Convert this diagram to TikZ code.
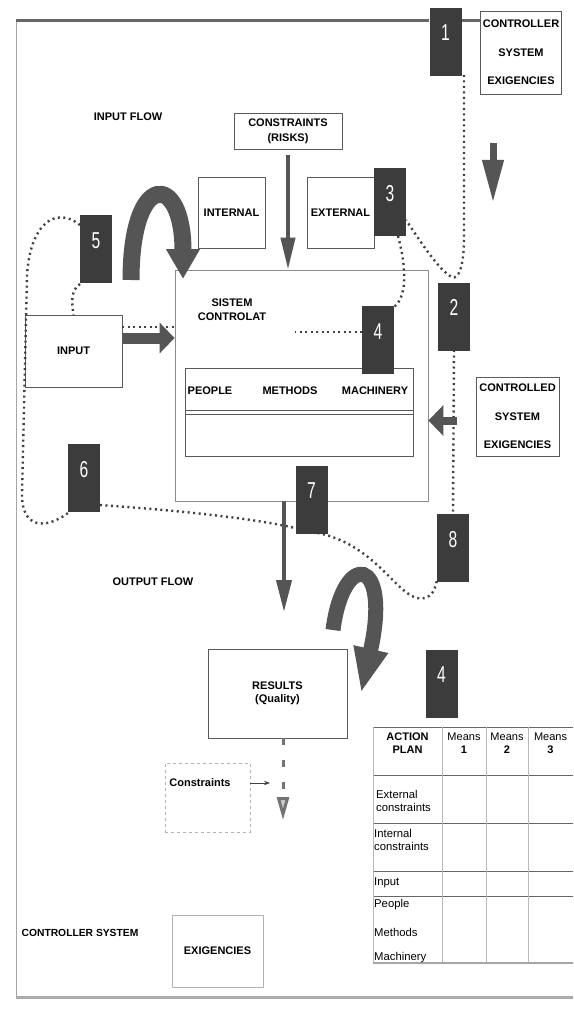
\documentclass[tikz,border=0pt]{standalone}
\usepackage{fontspec}
\setmainfont{Liberation Sans}
\usepackage{graphicx}
\usetikzlibrary{arrows.meta, calc}

\definecolor{numgray}{HTML}{3C3C3C}
\definecolor{arrgray}{HTML}{555555}
\definecolor{linegray}{HTML}{5A5A5A}

\newcommand{\numtxt}[1]{\scalebox{0.68}[1]{#1}}

\begin{document}
\begin{tikzpicture}[x=1pt, y=-1pt,
  box/.style={rectangle, draw=linegray, line width=0.8pt, align=center,
              font=\fontsize{11}{13}\selectfont\bfseries, inner sep=2pt},
  numbox/.style={rectangle, fill=numgray, minimum width=32pt, inner sep=0pt,
                 text height=33pt, text depth=35pt, text=white, font=\fontsize{23}{23}\selectfont},
  lbl/.style={font=\fontsize{11}{13}\selectfont\bfseries, align=center, inner sep=0pt},
  cell/.style={font=\fontsize{11.3}{13}\selectfont, align=left, anchor=west, inner sep=0pt},
  dots/.style={draw=black!75, line width=2.4pt, dash pattern=on 2pt off 3.5pt},
  fatarr/.style={draw=arrgray, line width=11pt, -{Triangle[length=15pt, width=30pt]}},
  thinarr/.style={draw=arrgray, line width=4pt, -{Triangle[length=32pt, width=14pt]}},
  bendarr/.style={draw=arrgray, line width=17pt, -{Triangle[length=30pt, width=32pt]}}
]
  \useasboundingbox (0,0) rectangle (573,1011);

  % frame
  \coordinate (tl) at (16,21);
  \coordinate (bl) at (16,997);
  \coordinate (br) at (573,997);

  % top part
  \node[box, minimum width=78pt, minimum height=83pt, font=\fontsize{11}{28.5}\selectfont\bfseries] (ctrlA) at (521,52.5) {CONTROLLER\\SYSTEM\\EXIGENCIES};
  \node[box, minimum width=108pt, minimum height=36pt, font=\fontsize{11}{15}\selectfont\bfseries] (risk) at (288,131) {CONSTRAINTS\\(RISKS)};
  \node[lbl] (inflow) at (128,117) {INPUT FLOW};
  \node[box, minimum width=67pt, minimum height=71pt] (intl) at (231.5,212.5) {INTERNAL};
  \node[box, minimum width=67pt, minimum height=71pt] (extl) at (340.5,212.5) {EXTERNAL};

  % controlled system
  \node[box, draw=black!45, minimum width=253pt, minimum height=231pt] (sys) at (301.5,385.5) {};
  \node[lbl, font=\fontsize{11}{14}\selectfont\bfseries] (systxt) at (232,310) {SISTEM\\CONTROLAT};
  \node[box, minimum width=228pt, minimum height=88pt] (pmm) at (299,412) {};
  \draw[linegray, line width=0.8pt] ($(pmm.west)+(0,-2)$) -- ($(pmm.east)+(0,-2)$);
  \draw[linegray, line width=0.8pt] ($(pmm.west)+(0,2)$) -- ($(pmm.east)+(0,2)$);
  \node[lbl] (ppl) at (210,391) {PEOPLE};
  \node[lbl] (mth) at (290,391) {METHODS};
  \node[lbl] (mch) at (375,391) {MACHINERY};
  \node[box, minimum width=97pt, minimum height=72pt] (inp) at (73.5,351) {INPUT};
  \node[box, minimum width=83pt, minimum height=79pt, font=\fontsize{11}{28.5}\selectfont\bfseries] (ctrlB) at (517.5,416.5) {CONTROLLED\\SYSTEM\\EXIGENCIES};

  % output part
  \node[lbl] (outflow) at (153,582) {OUTPUT FLOW};
  \node[box, minimum width=139pt, minimum height=89pt] (rslt) at (277.5,693.5) {RESULTS\\(Quality)};
  \node[box, draw=gray!60, dashed, minimum width=85pt, minimum height=69pt] (consbox) at (207.5,797.5) {};
  \node[lbl] (cons) at (200,783) {Constraints};
  \node[box, draw=gray!60, minimum width=91pt, minimum height=72pt] (exig) at (217.5,951) {EXIGENCIES};
  \node[lbl, font=\fontsize{10.3}{13}\selectfont\bfseries] (ctrlsys) at (80,933) {CONTROLLER SYSTEM};

  % action plan table
  \foreach \y in {727,775,823,871,896} \draw[black!60, line width=0.8pt] (373,\y) -- (573,\y);
  \foreach \x in {442,486,528} \draw[gray!55, line width=0.5pt] (\x,727) -- (\x,963);
  \draw[gray!55, line width=0.6pt] (373,727) -- (373,963);
  \draw[gray!70, line width=2.5pt] (373,963) -- (573,963);
  \node[lbl] (ap) at (407.5,743.5) {ACTION\\PLAN};
  \node[font=\fontsize{11}{13}\selectfont, align=center, inner sep=0pt] (m1) at (464,743.5) {Means\\\textbf{1}};
  \node[font=\fontsize{11}{13}\selectfont, align=center, inner sep=0pt] (m2) at (507,743.5) {Means\\\textbf{2}};
  \node[font=\fontsize{11}{13}\selectfont, align=center, inner sep=0pt] (m3) at (550.5,743.5) {Means\\\textbf{3}};
  \node[cell] (ext) at (376,800.5) {External\\constraints};
  \node[cell] (int) at (374,839.5) {Internal\\constraints};
  \node[cell] (ip) at (374,883) {Input};
  \node[cell] (pp) at (374,905) {People};
  \node[cell] (mt) at (374,932) {Methods};
  \node[cell] (mc) at (374,958) {Machinery};

  % dotted links between the numbers
  \coordinate (d3e) at (295,332);
  \draw[dots] (464,75) -- (464,238) .. controls (464,268) and (458,280) .. (452,277) .. controls (440,272) and (418,238) .. (406,220);
  \draw[dots] (398,236) .. controls (405,262) and (409,295) .. (394,307);
  \draw[dots] (362,332) -- (d3e);
  \draw[dots] (454,350) -- (453,512);
  \draw[dots] (80,225) .. controls (55,205) and (30,225) .. (27,275) -- (22,495) .. controls (22,528) and (45,530) .. (68,513);
  \draw[dots] (80,284) .. controls (70,290) and (72,305) .. (73.5,315);
  \draw[dots] ([yshift=24pt]inp.east) -- ([yshift=24pt]inp.east -| sys.west);
  \draw[dots] (100,505) .. controls (200,512) and (260,520) .. (295,528);
  \draw[dots] (317.5,533) .. controls (380,545) and (400,605) .. (425,598) .. controls (432,596) and (435,590) .. (437,580);

  % numbered boxes
  \node[numbox] (n1) at (445.5,42) {\numtxt{1}};
  \node[numbox] (n3) at (390,202) {\numtxt{3}};
  \node[numbox] (n5) at (96,249) {\numtxt{5}};
  \node[numbox] (n2) at (454,316.5) {\numtxt{2}};
  \node[numbox] (n4) at (378,340) {\numtxt{4}};
  \node[numbox] (n6) at (84,478) {\numtxt{6}};
  \node[numbox] (n7) at (311.5,499.5) {\numtxt{7}};
  \node[numbox] (n8) at (453,548) {\numtxt{8}};
  \node[numbox] (n4b) at (441.5,683.5) {\numtxt{4}};

  % frame lines
  \draw[gray!70, line width=0.7pt] (tl) -- (bl);
  \draw[black!60, line width=3pt] (tl) -- (n1.west |- tl);
  \draw[black!60, line width=3pt] (n1.east |- tl) -- (ctrlA.west |- tl);
  \draw[gray!65, line width=3pt] (bl) -- (br);

  % arrows
  \coordinate (da1) at (493,143);
  \coordinate (da2) at (493,203);
  \coordinate (oend) at (284,612);
  \coordinate (dend) at (283,820);
  \coordinate (carr) at (270,783);
  \coordinate (b1s) at (131,280);
  \coordinate (b1e) at (183,279);
  \coordinate (b2s) at (333,630);
  \coordinate (b2e) at (361,693);
  \draw[thinarr, shorten <=6pt] (risk.south) -- (risk.south |- sys.north);
  \draw[draw=arrgray, line width=7pt, -{Triangle[length=43pt, width=20pt]}] (da1) -- (da2);
  \draw[fatarr] ([yshift=13pt]inp.east) -- ([yshift=13pt]inp.east -| sys.west);
  \draw[fatarr, line width=8pt, shorten <=19pt] ([yshift=-4pt]ctrlB.west) -- ([yshift=-4pt]ctrlB.west -| sys.east);
  \draw[thinarr, -{Triangle[length=32pt, width=15pt]}] (sys.south -| oend) -- (oend);
  \draw[bendarr] (b1s) .. controls (131,170) and (183,172) .. (b1e);
  \draw[bendarr, line width=15pt, -{Triangle[length=45pt, width=32pt]}] (b2s) .. controls (343,550) and (392,555) .. (b2e);
  \draw[black!55, line width=3pt, dash pattern=on 7pt off 15pt, -{Triangle[length=23pt, width=12pt, fill=gray!40]}] (rslt.south -| dend) -- (dend);
  \draw[black!75, line width=0.8pt, -{Stealth[length=6pt]}] (consbox.east |- cons) -- (carr);
\end{tikzpicture}
\end{document}
